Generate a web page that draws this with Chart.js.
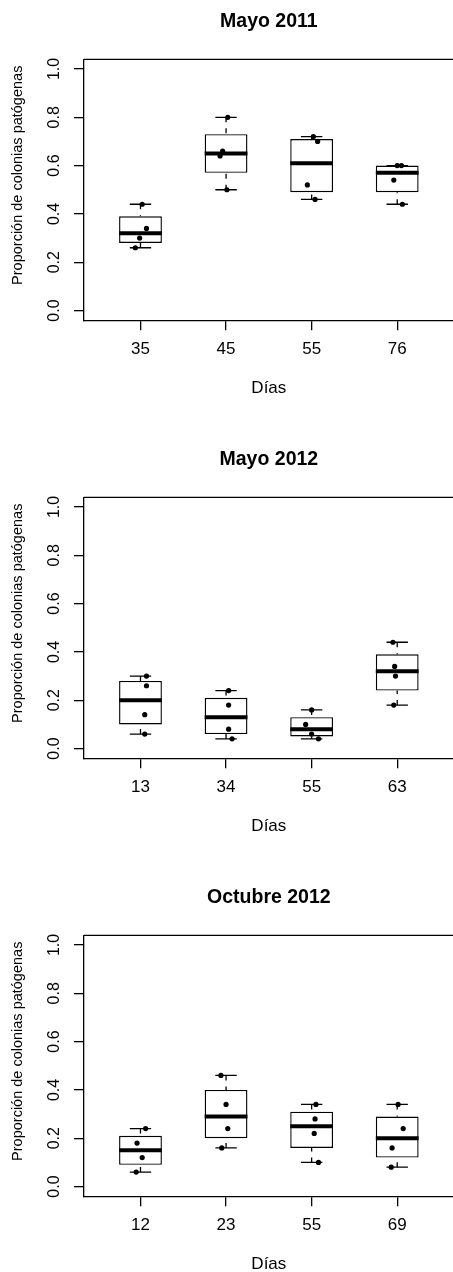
<!DOCTYPE html>
<html>
<head>
<meta charset="utf-8">
<script src="https://cdn.jsdelivr.net/npm/chart.js@4.4.1/dist/chart.umd.min.js"></script>
<style>
  html, body { margin: 0; padding: 0; background: #fff; overflow: hidden; width: 453px; height: 1272px; }
  canvas { position: absolute; left: 0; }
</style>
</head>
<body>
<canvas id="p1" width="470" height="438" style="top:0px"></canvas>
<canvas id="p2" width="470" height="438" style="top:438px"></canvas>
<canvas id="p3" width="470" height="438" style="top:876px"></canvas>
<script>
// Sampling days per campaign
const days2011 = ['35', '45', '55', '76'];
const daysMayo2012 = ['13', '34', '55', '63'];
const daysOct2012 = ['12', '23', '55', '69'];

const yTicks = [0, 0.2, 0.4, 0.6, 0.8, 1.0];

// Proportion of pathogenic colonies, four replicates per day
const mayo2011 = [
  [0.44, 0.34, 0.30, 0.26],
  [0.80, 0.66, 0.64, 0.50],
  [0.72, 0.70, 0.52, 0.46],
  [0.60, 0.60, 0.54, 0.44]
];
const mayo2012 = [
  [0.30, 0.26, 0.14, 0.06],
  [0.24, 0.18, 0.08, 0.04],
  [0.16, 0.10, 0.06, 0.04],
  [0.44, 0.34, 0.30, 0.18]
];
const octubre2012 = [
  [0.24, 0.18, 0.12, 0.06],
  [0.46, 0.34, 0.24, 0.16],
  [0.34, 0.28, 0.22, 0.10],
  [0.34, 0.24, 0.16, 0.08]
];

// Horizontal jitter of the replicate points (in day-slot units)
const jitterMayo2011 = [
  [0.02, 0.07, -0.01, -0.06],
  [0.02, -0.04, -0.07, 0.01],
  [0.02, 0.07, -0.05, 0.04],
  [0.00, 0.05, -0.04, 0.06]
];
const jitterMayo2012 = [
  [0.07, 0.07, 0.05, 0.05],
  [0.03, 0.03, 0.03, 0.07],
  [0.00, -0.07, 0.00, 0.08],
  [-0.05, -0.03, -0.02, -0.04]
];
const jitterOct2012 = [
  [0.06, -0.04, 0.02, -0.05],
  [-0.06, 0.00, 0.02, -0.05],
  [0.05, 0.04, 0.03, 0.08],
  [0.01, 0.07, -0.06, -0.07]
];

const FONT = 'Liberation Sans, Arial, Helvetica, sans-serif';

// Tukey five-number summary with whiskers limited to 1.5 IQR
function boxStats(values) {
  const x = values.slice().sort((a, b) => a - b);
  const n = x.length;
  const n4 = Math.floor((n + 3) / 2) / 2;
  const d = [1, n4, (n + 1) / 2, n + 1 - n4, n];
  const q = d.map(p => 0.5 * (x[Math.floor(p) - 1] + x[Math.ceil(p) - 1]));
  const iqr = q[3] - q[1];
  const lo = Math.min(...x.filter(v => v >= q[1] - 1.5 * iqr));
  const hi = Math.max(...x.filter(v => v <= q[3] + 1.5 * iqr));
  return { lo, q1: q[1], med: q[2], q3: q[3], hi };
}

function makePanel(id, title, labels, values, jitter) {
  const stats = values.map(boxStats);
  const boxes = stats.map((s, i) => ({ x: i + 1, y: [s.q1, s.q3] }));
  const points = [];
  values.forEach((grp, i) => grp.forEach((v, j) => points.push({ x: i + 1 + jitter[i][j], y: v })));

  const boxParts = {
    id: 'boxParts' + id,
    afterDatasetDraw(chart, args) {
      if (args.index !== 0) return;
      const xs = chart.scales.x, ys = chart.scales.y, ctx = chart.ctx;
      ctx.save();
      ctx.strokeStyle = '#000';
      stats.forEach((s, i) => {
        const c = i + 1;
        const xc = xs.getPixelForValue(c);
        // whiskers (dashed, from cap to box)
        ctx.lineWidth = 1.3;
        ctx.setLineDash([5, 6]);
        ctx.beginPath();
        ctx.moveTo(xc, ys.getPixelForValue(s.hi));
        ctx.lineTo(xc, ys.getPixelForValue(s.q3));
        ctx.moveTo(xc, ys.getPixelForValue(s.lo));
        ctx.lineTo(xc, ys.getPixelForValue(s.q1));
        ctx.stroke();
        ctx.setLineDash([]);
        // staples
        ctx.beginPath();
        [s.hi, s.lo].forEach(v => {
          const yp = ys.getPixelForValue(v);
          ctx.moveTo(xs.getPixelForValue(c - 0.125), yp);
          ctx.lineTo(xs.getPixelForValue(c + 0.125), yp);
        });
        ctx.stroke();
        // median
        ctx.lineWidth = 4;
        ctx.lineCap = 'butt';
        ctx.beginPath();
        const ym = ys.getPixelForValue(s.med);
        ctx.moveTo(xs.getPixelForValue(c - 0.25), ym);
        ctx.lineTo(xs.getPixelForValue(c + 0.25), ym);
        ctx.stroke();
      });
      ctx.restore();
    },
    afterDraw(chart) {
      const { ctx, chartArea } = chart;
      const ys = chart.scales.y;
      ctx.save();
      // frame: top and right sides
      ctx.strokeStyle = '#000';
      ctx.lineWidth = 1.3;
      ctx.beginPath();
      ctx.moveTo(chartArea.left, chartArea.top);
      ctx.lineTo(chartArea.right, chartArea.top);
      ctx.lineTo(chartArea.right, chartArea.bottom);
      ctx.stroke();
      // y tick labels, read bottom-to-top
      ctx.fillStyle = '#000';
      ctx.textAlign = 'center';
      ctx.textBaseline = 'middle';
      ctx.font = '16px ' + FONT;
      ys.ticks.forEach(t => {
        ctx.save();
        ctx.translate(55, ys.getPixelForValue(t.value));
        ctx.rotate(-Math.PI / 2);
        ctx.fillText(t.value.toFixed(1), 0, 0);
        ctx.restore();
      });
      // y axis title
      ctx.font = '14.5px ' + FONT;
      ctx.save();
      ctx.translate(18, (chartArea.top + chartArea.bottom) / 2 - 14.5);
      ctx.rotate(-Math.PI / 2);
      ctx.fillText('Proporción de colonias patógenas', 0, 0);
      ctx.restore();
      ctx.restore();
    }
  };

  return new Chart(document.getElementById(id), {
    type: 'bar',
    data: {
      datasets: [
        {
          type: 'bar',
          data: boxes,
          backgroundColor: '#fff',
          borderColor: '#000',
          borderWidth: 1.4,
          borderSkipped: false,
          barPercentage: 0.5,
          categoryPercentage: 1,
          order: 2
        },
        {
          type: 'scatter',
          data: points,
          pointRadius: 2.6,
          pointHoverRadius: 2.6,
          pointBackgroundColor: '#000',
          pointBorderWidth: 0,
          order: 1
        }
      ]
    },
    options: {
      responsive: false,
      animation: false,
      events: [],
      layout: { padding: { left: 0, top: 0, right: 16.3, bottom: 0 } },
      plugins: {
        legend: { display: false },
        tooltip: { enabled: false },
        title: {
          display: true,
          text: title,
          fullSize: false,
          color: '#000',
          font: { family: FONT, size: 19.5, weight: 'bold', lineHeight: 1.2 },
          padding: { top: 9.5, bottom: 26.4 }
        }
      },
      scales: {
        x: {
          type: 'linear',
          min: 0.34,
          max: 4.66,
          offset: false,
          afterBuildTicks: s => { s.ticks = labels.map((_, i) => ({ value: i + 1 })); },
          afterFit: s => { s.height = 117.8; },
          ticks: {
            autoSkip: false,
            maxRotation: 0,
            minRotation: 0,
            padding: 9.1,
            color: '#000',
            font: { family: FONT, size: 17, lineHeight: 1.2 },
            callback: (v, i) => labels[i]
          },
          grid: { offset: false, drawOnChartArea: false, drawTicks: true, tickLength: 10, color: '#000', lineWidth: 1.3 },
          border: { display: true, color: '#000', width: 1.3 },
          title: {
            display: true,
            text: 'Días',
            color: '#000',
            font: { family: FONT, size: 17, lineHeight: 1.2 },
            padding: { top: 0, bottom: 39.8 }
          }
        },
        y: {
          type: 'linear',
          min: -0.04,
          max: 1.04,
          afterBuildTicks: s => { s.ticks = yTicks.map(v => ({ value: v })); },
          afterFit: s => { s.width = 84; },
          ticks: { display: false },
          grid: { drawOnChartArea: false, drawTicks: true, tickLength: 10, color: '#000', lineWidth: 1.3 },
          border: { display: true, color: '#000', width: 1.3 }
        }
      }
    },
    plugins: [boxParts]
  });
}

makePanel('p1', 'Mayo 2011', days2011, mayo2011, jitterMayo2011);
makePanel('p2', 'Mayo 2012', daysMayo2012, mayo2012, jitterMayo2012);
makePanel('p3', 'Octubre 2012', daysOct2012, octubre2012, jitterOct2012);
</script>
</body>
</html>
